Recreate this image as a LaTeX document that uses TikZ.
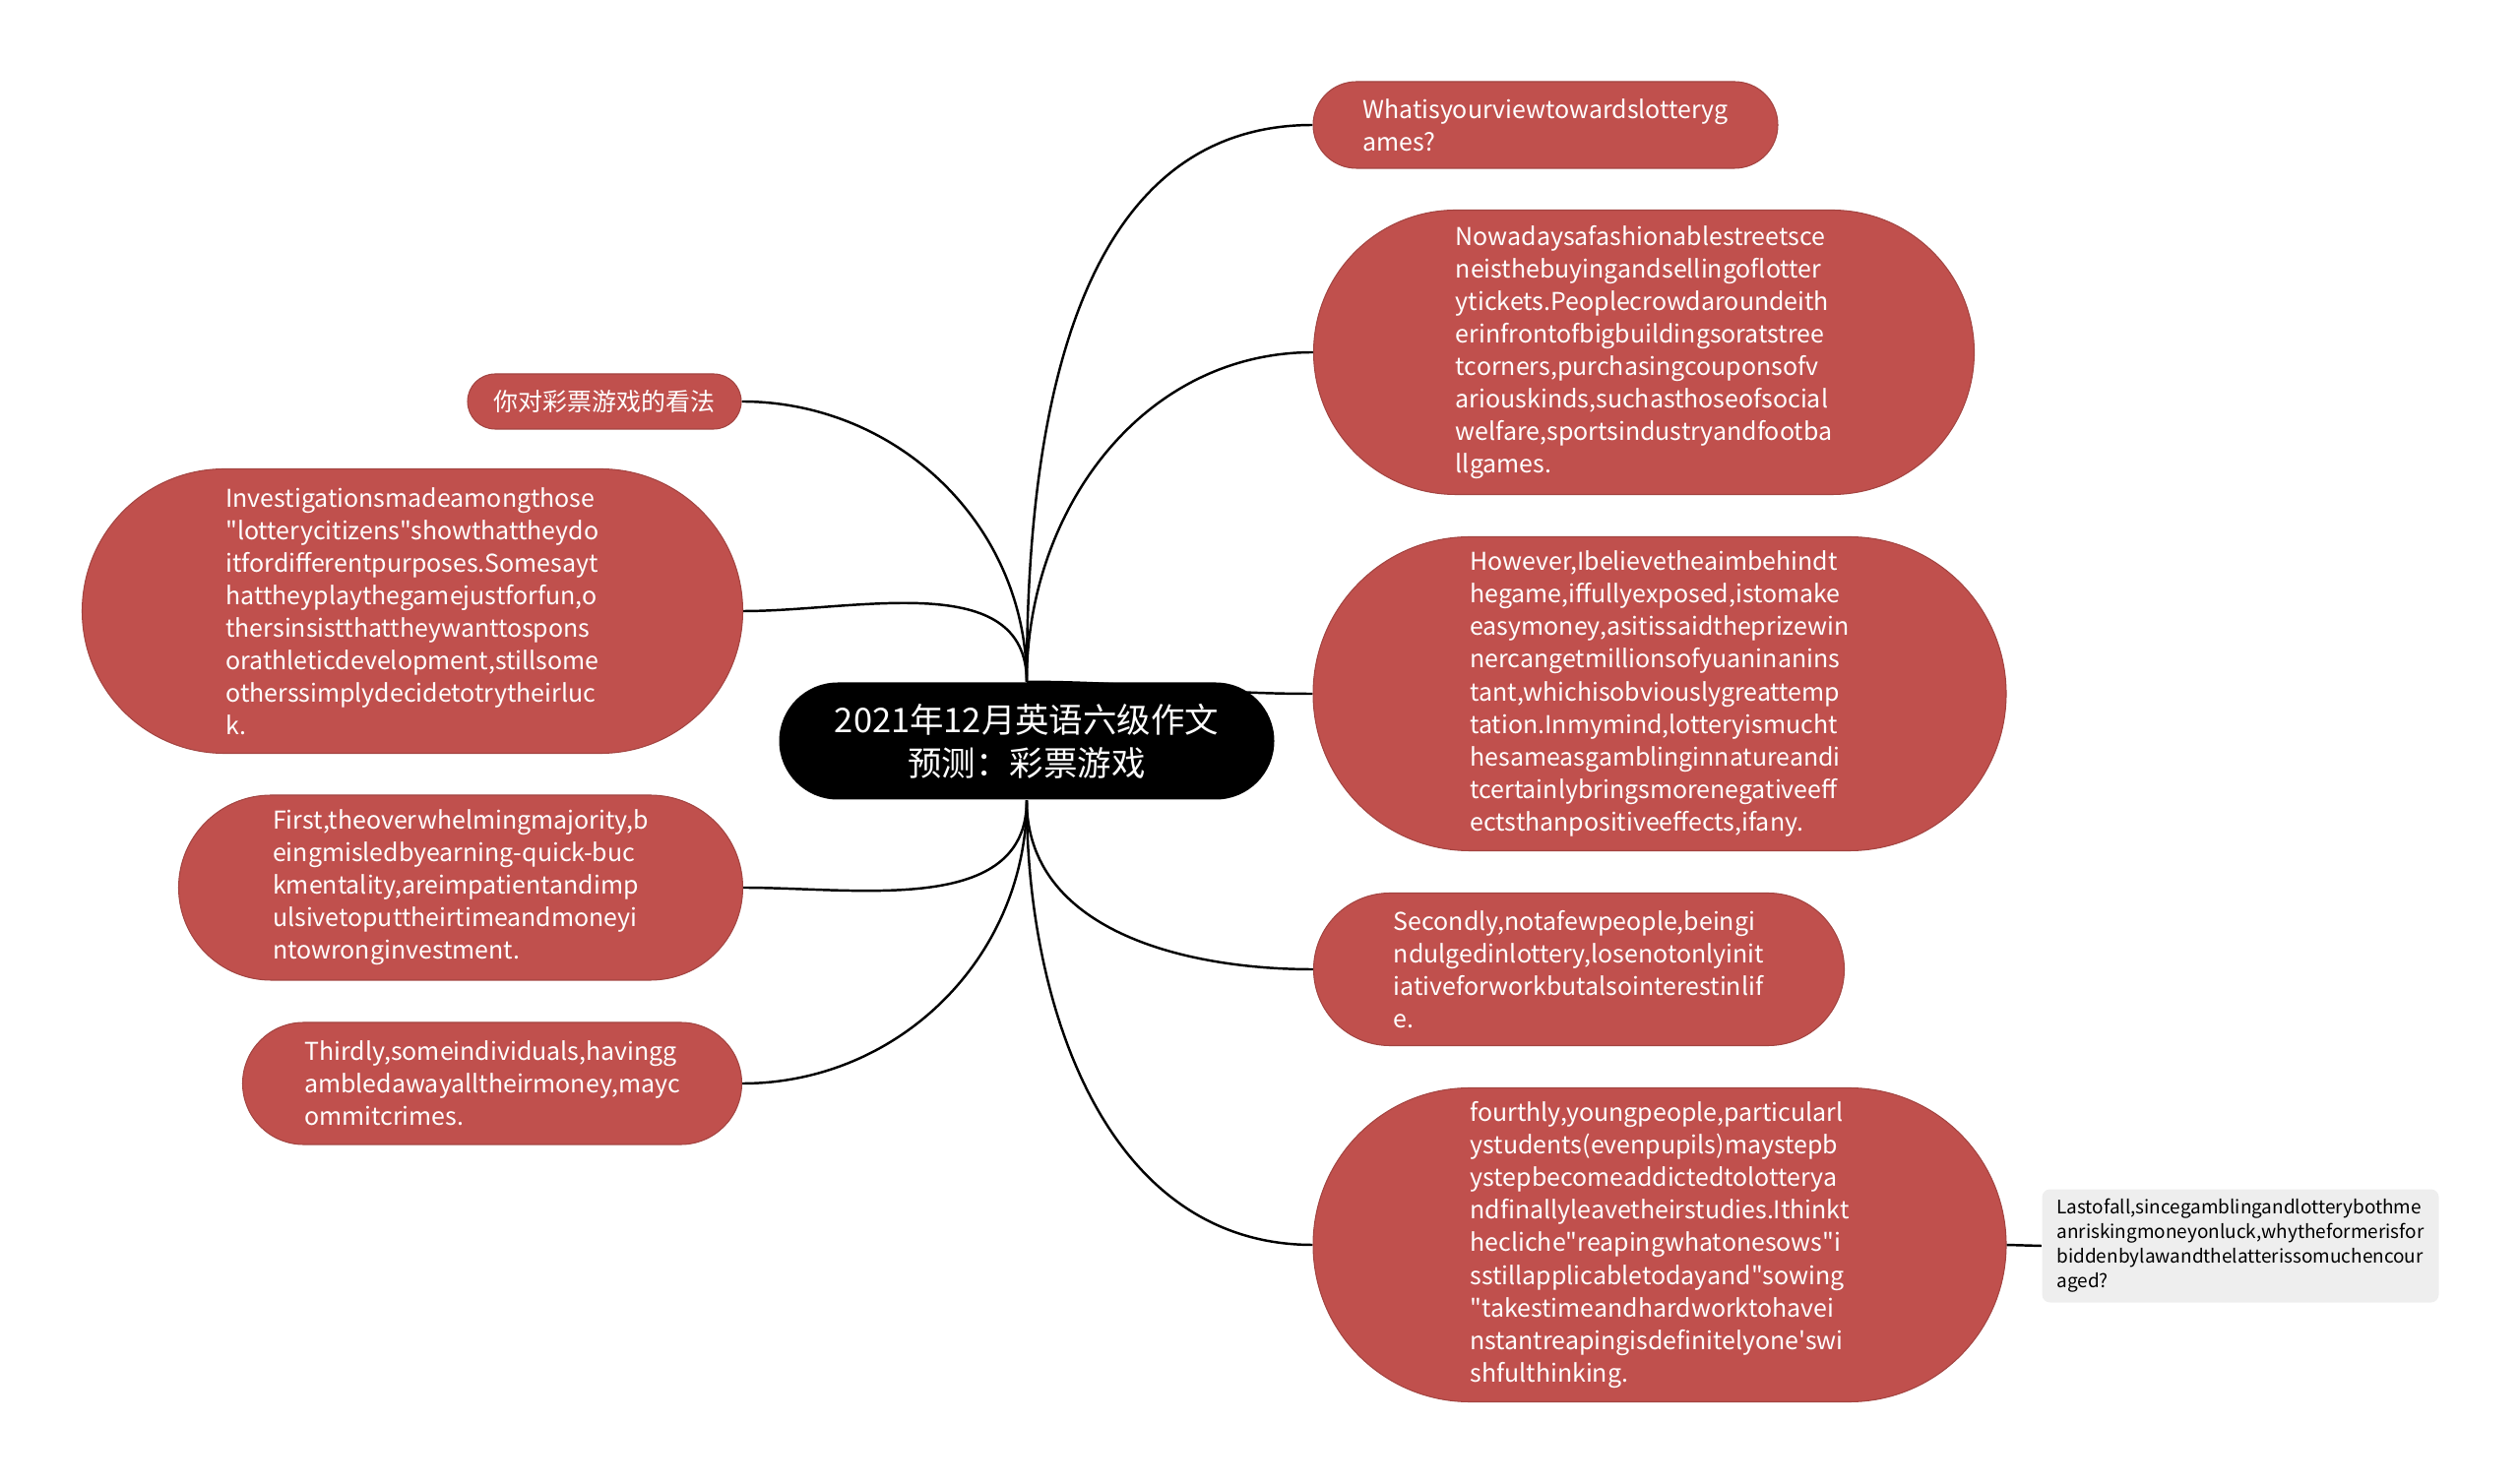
\documentclass[tikz,border=0pt]{standalone}
\usepackage{fontspec}
\newfontfamily\mapfont{Noto Sans CJK SC}
\usetikzlibrary{shapes.misc,backgrounds}
\definecolor{topicred}{RGB}{192,80,77}
\definecolor{notegrey}{RGB}{238,238,238}

\begin{document}
\begin{tikzpicture}[x=1cm, y=-1cm,
  root/.style={rounded rectangle, fill=black, text=white, align=center, inner sep=0pt, font=\mapfont\fontsize{9.8pt}{12.5pt}\selectfont},
  topic/.style={rounded rectangle, fill=topicred, draw=topicred!85!black, line width=0.3pt, text=white, align=left, inner sep=0pt, font=\mapfont\fontsize{7.1pt}{9.4pt}\selectfont},
  note/.style={rectangle, rounded corners=0.08cm, fill=notegrey, text=black, align=left, inner sep=0pt, font=\mapfont\fontsize{5.4pt}{7.1pt}\selectfont},
  link/.style={black, line width=0.7pt}]
\useasboundingbox (0,0) rectangle (25.6,15.08);

% central topic
\path (10.43,7.53) node[root, minimum width=5.03cm, minimum height=1.19cm] (center) {2021年12月英语六级作文\\预测：彩票游戏};

% right side
\path (15.70,1.27) node[topic, minimum width=4.72cm, minimum height=0.88cm] (view) {Whatisyourviewtowardslotteryg\\ames?};
\path (16.70,3.58) node[topic, minimum width=6.71cm, minimum height=2.89cm] (street) {Nowadaysafashionablestreetsce\\neisthebuyingandsellingoflotter\\ytickets.Peoplecrowdaroundeith\\erinfrontofbigbuildingsoratstree\\tcorners,purchasingcouponsofv\\ariouskinds,suchasthoseofsocial\\welfare,sportsindustryandfootba\\llgames.};
\path (16.86,7.05) node[topic, minimum width=7.04cm, minimum height=3.19cm] (aim) {However,Ibelievetheaimbehindt\\hegame,iffullyexposed,istomake\\easymoney,asitissaidtheprizewin\\nercangetmillionsofyuaninanins\\tant,whichisobviouslygreattemp\\tation.Inmymind,lotteryismucht\\hesameasgamblinginnatureandi\\tcertainlybringsmorenegativeeff\\ectsthanpositiveeffects,ifany.};
\path (16.04,9.85) node[topic, minimum width=5.39cm, minimum height=1.55cm] (second) {Secondly,notafewpeople,beingi\\ndulgedinlottery,losenotonlyinit\\iativeforworkbutalsointerestinlif\\e.};
\path (16.86,12.65) node[topic, minimum width=7.04cm, minimum height=3.19cm] (fourth) {fourthly,youngpeople,particularl\\ystudents(evenpupils)maystepb\\ystepbecomeaddictedtolotterya\\ndfinallyleavetheirstudies.Ithinkt\\hecliche"reapingwhatonesows"i\\sstillapplicabletodayand"sowing\\"takestimeandhardworktohavei\\nstantreapingisdefinitelyone'swi\\shfulthinking.};
\path (22.76,12.66) node[note, minimum width=4.03cm, minimum height=1.15cm] (last) {Lastofall,sincegamblingandlotterybothme\\anriskingmoneyonluck,whytheformerisfor\\biddenbylawandthelatterissomuchencour\\aged?};

% left side
\path (6.14,4.08) node[topic, minimum width=2.78cm, minimum height=0.56cm] (opinion) {你对彩票游戏的看法};
\path (4.19,6.21) node[topic, minimum width=6.71cm, minimum height=2.89cm] (survey) {Investigationsmadeamongthose\\"lotterycitizens"showthattheydo\\itfordifferentpurposes.Somesayt\\hattheyplaythegamejustforfun,o\\thersinsistthattheywanttospons\\orathleticdevelopment,stillsome\\otherssimplydecidetotrytheirluc\\k.};
\path (4.68,9.02) node[topic, minimum width=5.73cm, minimum height=1.88cm] (first) {First,theoverwhelmingmajority,b\\eingmisledbyearning-quick-buc\\kmentality,areimpatientandimp\\ulsivetoputtheirtimeandmoneyi\\ntowronginvestment.};
\path (5.00,11.01) node[topic, minimum width=5.07cm, minimum height=1.24cm] (third) {Thirdly,someindividuals,havingg\\ambledawayalltheirmoney,mayc\\ommitcrimes.};

\begin{scope}[on background layer]
\draw[link] (center.north) to[out=90, in=180] (view.west);
\draw[link] (center.north) to[out=90, in=180] (street.west);
\draw[link] (center.north) to[out=0, in=180] (aim.west);
\draw[link] (center.south) to[out=-90, in=180] (second.west);
\draw[link] (center.south) to[out=-90, in=180] (fourth.west);
\draw[link] (center.north) to[out=90, in=0] (opinion.east);
\draw[link] (center.north) to[out=90, in=0] (survey.east);
\draw[link] (center.south) to[out=-90, in=0] (first.east);
\draw[link] (center.south) to[out=-90, in=0] (third.east);
\end{scope}
\draw[link] (fourth.east) -- (last.west);
\end{tikzpicture}
\end{document}
